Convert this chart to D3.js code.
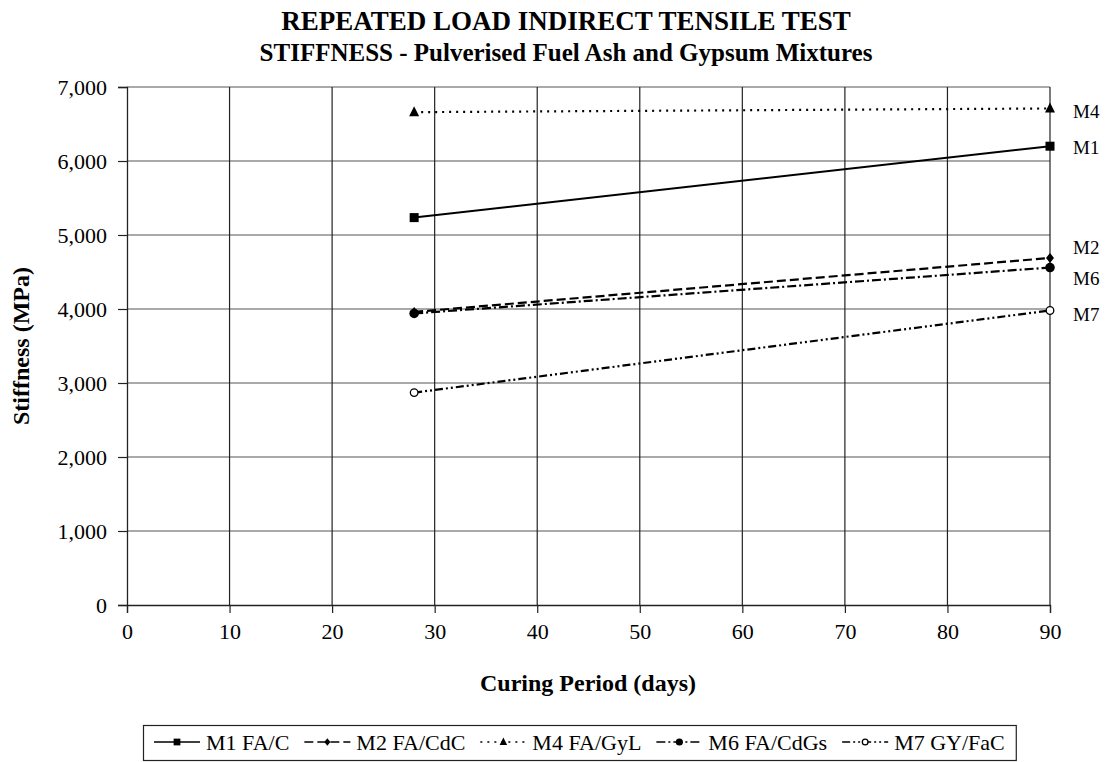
<!DOCTYPE html>
<html>
<head>
<meta charset="utf-8">
<script src="https://cdn.jsdelivr.net/npm/d3@7"></script>
<style>
  html, body { margin: 0; padding: 0; background: #fff; }
  svg { display: block; font-family: "Liberation Serif", "Times New Roman", serif; }
</style>
</head>
<body>
<svg id="chart" width="1108" height="762"></svg>
<script>
// Curing periods (days) at which stiffness was measured
const curingDays = [28, 90];

// Stiffness (MPa) per mixture
const seriesNames  = ["M1", "M2", "M4", "M6", "M7"];
const seriesLabels = ["M1 FA/C", "M2 FA/CdC", "M4 FA/GyL", "M6 FA/CdGs", "M7 GY/FaC"];
const m1Values = [5235, 6200];
const m2Values = [3960, 4690];
const m4Values = [6660, 6710];
const m6Values = [3940, 4560];
const m7Values = [2870, 3980];

// Axis ticks
const xTicks = [0, 10, 20, 30, 40, 50, 60, 70, 80, 90];
const yTicks = [0, 1000, 2000, 3000, 4000, 5000, 6000, 7000];

const valuesBySeries = [m1Values, m2Values, m4Values, m6Values, m7Values];

// Line dash pattern, marker type and end-label nudge (px) for each series
const styles = {
  M1: { dash: null,          marker: "square",   labelDy: 1 },
  M2: { dash: "9,4",         marker: "diamond",  labelDy: -11 },
  M4: { dash: "2,5",         marker: "triangle", labelDy: 3 },
  M6: { dash: "9,3,2,3",     marker: "circle",   labelDy: 11 },
  M7: { dash: "8,3,2,3,2,3", marker: "open",     labelDy: 4 }
};

const svg = d3.select("#chart");
const margin = { left: 127, right: 58, top: 87, bottom: 157 };
const W = 1108, H = 762;
const plotW = W - margin.left - margin.right;
const plotH = H - margin.top - margin.bottom;

const x = d3.scaleLinear().domain([0, 90]).range([margin.left, margin.left + plotW]);
const y = d3.scaleLinear().domain([0, 7000]).range([margin.top + plotH, margin.top]);

// Titles
svg.append("text").attr("x", 566).attr("y", 30).attr("text-anchor", "middle")
  .attr("font-size", 27).attr("font-weight", "bold").text("REPEATED LOAD INDIRECT TENSILE TEST");
svg.append("text").attr("x", 566).attr("y", 61).attr("text-anchor", "middle")
  .attr("font-size", 25).attr("font-weight", "bold").text("STIFFNESS - Pulverised Fuel Ash and Gypsum Mixtures");

// Gridlines
const grid = svg.append("g");
grid.selectAll("line.h").data(yTicks.filter(d => d > 0)).join("line")
  .attr("x1", x(0)).attr("x2", x(90))
  .attr("y1", d => y(d)).attr("y2", d => y(d))
  .attr("stroke", "#555").attr("stroke-width", 1.2);
grid.selectAll("line.v").data(xTicks.filter(d => d > 0)).join("line")
  .attr("x1", d => x(d)).attr("x2", d => x(d))
  .attr("y1", y(0)).attr("y2", y(7000))
  .attr("stroke", "#222").attr("stroke-width", 1.2);

// Axes
const xAxis = d3.axisBottom(x).tickValues(xTicks).tickSize(8).tickPadding(10).tickFormat(d3.format("d"));
const yAxis = d3.axisLeft(y).tickValues(yTicks).tickSize(9).tickPadding(11).tickFormat(d3.format(","));

const gx = svg.append("g").attr("transform", `translate(0,${y(0)})`).call(xAxis);
const gy = svg.append("g").attr("transform", `translate(${x(0)},0)`).call(yAxis);
[gx, gy].forEach(g => {
  g.select(".domain").attr("stroke", "#222").attr("stroke-width", 1.3);
  g.selectAll(".tick line").attr("stroke", "#222").attr("stroke-width", 1.2);
  g.selectAll(".tick text").attr("font-family", "Liberation Serif").attr("font-size", 22).attr("fill", "#000");
});

// Axis titles
svg.append("text").attr("x", 588).attr("y", 691).attr("text-anchor", "middle")
  .attr("font-size", 24).attr("font-weight", "bold").text("Curing Period (days)");
svg.append("text").attr("transform", "translate(29,346) rotate(-90)").attr("text-anchor", "middle")
  .attr("font-size", 24).attr("font-weight", "bold").text("Stiffness (MPa)");

// Marker drawing
function drawMarker(g, type, cx, cy, s = 1) {
  if (type === "square") {
    g.append("rect").attr("x", cx - 4.5 * s).attr("y", cy - 4.5 * s).attr("width", 9 * s).attr("height", 9 * s).attr("fill", "#000");
  } else if (type === "diamond") {
    g.append("path").attr("d", `M${cx},${cy - 5 * s}L${cx + 4 * s},${cy}L${cx},${cy + 5 * s}L${cx - 4 * s},${cy}Z`).attr("fill", "#000");
  } else if (type === "triangle") {
    g.append("path").attr("d", `M${cx},${cy - 6 * s}L${cx + 5 * s},${cy + 4 * s}L${cx - 5 * s},${cy + 4 * s}Z`).attr("fill", "#000");
  } else if (type === "circle") {
    g.append("circle").attr("cx", cx).attr("cy", cy).attr("r", 4.8 * s).attr("fill", "#000");
  } else if (type === "open") {
    g.append("circle").attr("cx", cx).attr("cy", cy).attr("r", 3.8 * s).attr("fill", "#fff").attr("stroke", "#000").attr("stroke-width", 1.3);
  }
}

const line = d3.line().x(d => x(d[0])).y(d => y(d[1]));
const series = svg.append("g");
seriesNames.forEach((name, i) => {
  const pts = curingDays.map((d, j) => [d, valuesBySeries[i][j]]);
  const st = styles[name];
  series.append("path").datum(pts).attr("d", line)
    .attr("fill", "none").attr("stroke", "#000").attr("stroke-width", name === "M1" ? 2 : 2.2)
    .attr("stroke-dasharray", st.dash);
  pts.forEach(p => drawMarker(series, st.marker, x(p[0]), y(p[1])));
  const last = pts[pts.length - 1];
  series.append("text").attr("x", x(last[0]) + 23).attr("y", y(last[1]) + st.labelDy)
    .attr("dy", "0.35em").attr("font-size", 19).text(name);
});

// Legend: sample line with marker, then label, laid out left to right
const legend = svg.append("g");
const box = legend.append("rect").attr("fill", "#fff").attr("stroke", "#222").attr("stroke-width", 1.2);
const ly = 742;
let cursor = 154;
seriesNames.forEach((name, i) => {
  const st = styles[name];
  legend.append("line").attr("x1", cursor).attr("x2", cursor + 46).attr("y1", ly).attr("y2", ly)
    .attr("stroke", "#000").attr("stroke-width", 1.6).attr("stroke-dasharray", st.dash);
  drawMarker(legend, st.marker, cursor + 23, ly, 0.75);
  const t = legend.append("text").attr("x", cursor + 52).attr("y", ly).attr("dy", "0.35em")
    .attr("font-size", 22).text(seriesLabels[i]);
  cursor += 52 + t.node().getComputedTextLength() + 15;
});
box.attr("x", 143.5).attr("y", 725.5).attr("width", cursor - 4 - 143).attr("height", 35);
</script>
</body>
</html>
